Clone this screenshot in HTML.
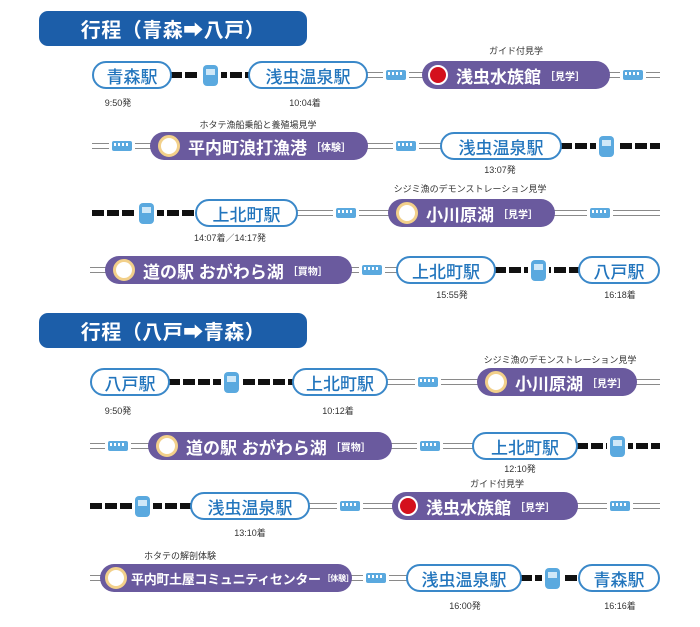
<!DOCTYPE html><html><head><meta charset="utf-8"><style>
body{margin:0;width:700px;height:627px;background:#fff;position:relative;overflow:hidden;font-family:"Liberation Sans","Noto Sans CJK JP",sans-serif}
div{position:absolute;box-sizing:border-box}
.h{left:39px;width:268px;height:35px;background:#1c5ea9;border-radius:9px;color:#fff;font-size:20px;font-weight:bold;display:flex;align-items:center;justify-content:center;letter-spacing:0.5px}
.p{height:28px;border-radius:14px;display:flex;align-items:center;justify-content:center;font-size:17px;font-weight:bold;white-space:nowrap;z-index:2}
.w{background:#fff;border:2px solid #3a88c9;color:#2275bd;font-weight:500}
.v{background:#6a5a9e;color:#fff;justify-content:flex-start;padding-left:8px}
.v small{font-size:10px;margin-left:4px}
.c{width:16px;height:16px;border-radius:50%;margin-right:8px;flex:none}
.g{background:#fff;border:3px solid #f2d08a}
.red{background:#d4101c;border:2px solid #fff}
.r{height:6px;background:repeating-linear-gradient(90deg,#111 0 12px,#fff 12px 15px)}
.d{height:6px;border-top:1.5px solid #8a8a8a;border-bottom:1.5px solid #8a8a8a;background:#fff}
.t{width:15px;height:21px;background:#5aa9df;border-radius:4px;z-index:3;box-shadow:0 0 0 3px #fff}
.t:after{content:"";position:absolute;left:3px;top:4px;width:9px;height:6px;background:#cfe8f8}
.b{width:20px;height:10px;background:#5aa9df;border-radius:2px;z-index:3;box-shadow:0 0 0 3px #fff}
.b:after{content:"";position:absolute;left:2px;top:2px;width:16px;height:3px;background:repeating-linear-gradient(90deg,#fff 0 2px,#5aa9df 2px 4px)}
.s{font-size:9px;color:#333;white-space:nowrap;transform:translateX(-50%)}
</style></head><body>
<div class="h" style="top:11px">行程（青森➡八戸）</div>
<div class="h" style="top:313px">行程（八戸➡青森）</div>

<div class="r" style="left:170px;width:80px;top:72px"></div><div class="t" style="left:203px;top:65px"></div>
<div class="d" style="left:366px;width:60px;top:72px"></div><div class="b" style="left:386px;top:70px"></div>
<div class="d" style="left:608px;width:52px;top:72px"></div><div class="b" style="left:623px;top:70px"></div>
<div class="p w" style="left:92px;width:80px;top:61px">青森駅</div>
<div class="p w" style="left:248px;width:120px;top:61px">浅虫温泉駅</div>
<div class="p v" style="left:422px;width:188px;top:61px;padding-left:6px"><span class="c red"></span>浅虫水族館<small>［見学］</small></div>
<div class="s" style="left:516px;top:44px">ガイド付見学</div>
<div class="s" style="left:118px;top:96px">9:50発</div><div class="s" style="left:305px;top:96px">10:04着</div>

<div class="d" style="left:92px;width:60px;top:143px"></div><div class="b" style="left:112px;top:141px"></div>
<div class="d" style="left:366px;width:76px;top:143px"></div><div class="b" style="left:396px;top:141px"></div>
<div class="r" style="left:560px;width:100px;top:143px"></div><div class="t" style="left:599px;top:136px"></div>
<div class="p v" style="left:150px;width:218px;top:132px"><span class="c g"></span>平内町浪打漁港<small>［体験］</small></div>
<div class="p w" style="left:440px;width:122px;top:132px">浅虫温泉駅</div>
<div class="s" style="left:258px;top:118px">ホタテ漁船乗船と養殖場見学</div>
<div class="s" style="left:500px;top:163px">13:07発</div>

<div class="r" style="left:92px;width:105px;top:210px"></div><div class="t" style="left:139px;top:203px"></div>
<div class="d" style="left:296px;width:94px;top:210px"></div><div class="b" style="left:336px;top:208px"></div>
<div class="d" style="left:554px;width:106px;top:210px"></div><div class="b" style="left:590px;top:208px"></div>
<div class="p w" style="left:195px;width:103px;top:199px">上北町駅</div>
<div class="p v" style="left:388px;width:167px;top:199px"><span class="c g"></span>小川原湖<small>［見学］</small></div>
<div class="s" style="left:470px;top:182px">シジミ漁のデモンストレーション見学</div>
<div class="s" style="left:230px;top:231px">14:07着／14:17発</div>

<div class="d" style="left:90px;width:20px;top:267px"></div>
<div class="d" style="left:350px;width:48px;top:267px"></div><div class="b" style="left:362px;top:265px"></div>
<div class="r" style="left:494px;width:86px;top:267px"></div><div class="t" style="left:531px;top:260px"></div>
<div class="p v" style="left:105px;width:247px;top:256px"><span class="c g"></span>道の駅 おがわら湖<small>［買物］</small></div>
<div class="p w" style="left:396px;width:100px;top:256px">上北町駅</div>
<div class="p w" style="left:578px;width:82px;top:256px">八戸駅</div>
<div class="s" style="left:452px;top:288px">15:55発</div><div class="s" style="left:620px;top:288px">16:18着</div>

<div class="r" style="left:168px;width:126px;top:379px"></div><div class="t" style="left:224px;top:372px"></div>
<div class="d" style="left:386px;width:94px;top:379px"></div><div class="b" style="left:418px;top:377px"></div>
<div class="d" style="left:634px;width:26px;top:379px"></div>
<div class="p w" style="left:90px;width:80px;top:368px">八戸駅</div>
<div class="p w" style="left:292px;width:96px;top:368px">上北町駅</div>
<div class="p v" style="left:477px;width:160px;top:368px"><span class="c g"></span>小川原湖<small>［見学］</small></div>
<div class="s" style="left:560px;top:353px">シジミ漁のデモンストレーション見学</div>
<div class="s" style="left:118px;top:404px">9:50発</div><div class="s" style="left:338px;top:404px">10:12着</div>

<div class="d" style="left:90px;width:60px;top:443px"></div><div class="b" style="left:108px;top:441px"></div>
<div class="d" style="left:390px;width:84px;top:443px"></div><div class="b" style="left:420px;top:441px"></div>
<div class="r" style="left:576px;width:84px;top:443px"></div><div class="t" style="left:610px;top:436px"></div>
<div class="p v" style="left:148px;width:244px;top:432px"><span class="c g"></span>道の駅 おがわら湖<small>［買物］</small></div>
<div class="p w" style="left:472px;width:106px;top:432px">上北町駅</div>
<div class="s" style="left:520px;top:462px">12:10発</div>

<div class="r" style="left:90px;width:102px;top:503px"></div><div class="t" style="left:135px;top:496px"></div>
<div class="d" style="left:308px;width:86px;top:503px"></div><div class="b" style="left:340px;top:501px"></div>
<div class="d" style="left:576px;width:84px;top:503px"></div><div class="b" style="left:610px;top:501px"></div>
<div class="p w" style="left:190px;width:120px;top:492px">浅虫温泉駅</div>
<div class="p v" style="left:392px;width:186px;top:492px;padding-left:6px"><span class="c red"></span>浅虫水族館<small>［見学］</small></div>
<div class="s" style="left:497px;top:477px">ガイド付見学</div>
<div class="s" style="left:250px;top:526px">13:10着</div>

<div class="d" style="left:90px;width:14px;top:575px"></div>
<div class="d" style="left:350px;width:58px;top:575px"></div><div class="b" style="left:366px;top:573px"></div>
<div class="r" style="left:520px;width:60px;top:575px"></div><div class="t" style="left:545px;top:568px"></div>
<div class="p v" style="left:100px;width:252px;top:564px;font-size:13px;padding-left:5px;letter-spacing:-0.3px"><span class="c g" style="margin-right:4px"></span>平内町土屋コミュニティセンター<small style="margin-left:2px;font-size:8px">［体験］</small></div>
<div class="p w" style="left:406px;width:116px;top:564px">浅虫温泉駅</div>
<div class="p w" style="left:578px;width:82px;top:564px">青森駅</div>
<div class="s" style="left:180px;top:549px">ホタテの解剖体験</div>
<div class="s" style="left:465px;top:599px">16:00発</div><div class="s" style="left:620px;top:599px">16:16着</div>
</body></html>
